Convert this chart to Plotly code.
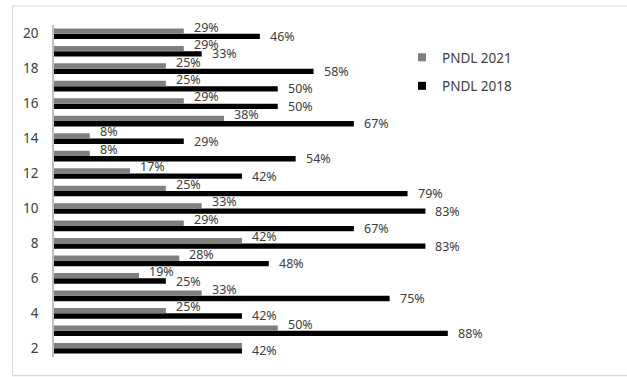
import plotly.graph_objects as go

# ---- data ----
categories = list(range(2, 21))
pndl_2021 = [42, 50, 25, 33, 19, 28, 42, 29, 33, 25, 17, 8, 8, 38, 29, 25, 25, 29, 29]
pndl_2018 = [42, 88, 42, 75, 25, 48, 83, 67, 83, 79, 42, 54, 29, 67, 50, 50, 58, 33, 46]
tick_vals = list(range(2, 21, 2))
series_names = ["PNDL 2021", "PNDL 2018"]

# ---- layout geometry ----
W, H = 627, 377
ML, MR, MT, MB = 54, 36, 25, 20
PW, PH = W - ML - MR, H - MT - MB
X_MAX = 120
BARGAP = 0.39

GRAY = "#7f7f7f"
BLACK = "#000000"
TXT = "#404040"
FONT = "Noto Sans"


def px_x(x):
    return (x - ML) / PW


def px_y(y):
    return (H - MB - y) / PH


fig = go.Figure()
# black first -> drawn at lower slot of each group; gray above
fig.add_trace(go.Bar(y=categories, x=pndl_2018, orientation="h", marker_color=BLACK,
                     marker_line_width=0, name=series_names[1], showlegend=False))
fig.add_trace(go.Bar(y=categories, x=pndl_2021, orientation="h", marker_color=GRAY,
                     marker_line_width=0, name=series_names[0], showlegend=False))

# legend entries
fig.add_trace(go.Scatter(x=[None], y=[None], mode="markers", name=series_names[0],
                         marker=dict(symbol="square", size=8, color=GRAY), legendgroup="a"))
fig.add_trace(go.Scatter(x=[None], y=[None], mode="markers", name=series_names[1],
                         marker=dict(symbol="square", size=8, color=BLACK), legendgroup="b"))

half = (1 - BARGAP) / 4.0
annotations = []
for c, g, b in zip(categories, pndl_2021, pndl_2018):
    annotations.append(dict(x=b, y=c - half, xref="x", yref="y", text=f"{b}%",
                            showarrow=False, xanchor="left", yanchor="middle",
                            xshift=8, font=dict(family=FONT, size=12.5, color=TXT)))
    if g != b:
        annotations.append(dict(x=g, y=c + half, xref="x", yref="y", text=f"{g}%",
                                showarrow=False, xanchor="left", yanchor="middle",
                                xshift=8, yshift=4, font=dict(family=FONT, size=12.5, color=TXT)))

shapes = [
    dict(type="line", xref="paper", yref="paper", x0=px_x(12), x1=px_x(640), y0=px_y(6), y1=px_y(6),
         line=dict(color="#d9d9d9", width=1)),
    dict(type="line", xref="paper", yref="paper", x0=px_x(12), x1=px_x(640), y0=px_y(375.5), y1=px_y(375.5),
         line=dict(color="#d9d9d9", width=1.5)),
    dict(type="line", xref="paper", yref="paper", x0=px_x(12.5), x1=px_x(12.5), y0=px_y(6), y1=px_y(375.5),
         line=dict(color="#d9d9d9", width=1)),
]

fig.update_layout(
    width=W, height=H,
    margin=dict(l=ML, r=MR, t=MT, b=MB, pad=0),
    paper_bgcolor="white", plot_bgcolor="white",
    barmode="group", bargap=BARGAP, bargroupgap=0,
    font=dict(family=FONT, size=12, color=TXT),
    xaxis=dict(range=[0, X_MAX], visible=False, showgrid=False, zeroline=False),
    yaxis=dict(range=[1.5, 20.5], tickvals=tick_vals, ticktext=[str(v) for v in tick_vals],
               showgrid=False, zeroline=False, showline=True, linecolor="#bfbfbf", linewidth=1.5,
               ticks="outside", ticklen=11, tickcolor="rgba(0,0,0,0)",
               tickfont=dict(family=FONT, size=13.5, color=TXT)),
    legend=dict(x=px_x(402), y=px_y(42), xanchor="left", yanchor="top",
                font=dict(family=FONT, size=13.5, color=TXT), tracegroupgap=8,
                bgcolor="rgba(0,0,0,0)"),
    annotations=annotations,
    shapes=shapes,
)

fig.write_html("out.html")
